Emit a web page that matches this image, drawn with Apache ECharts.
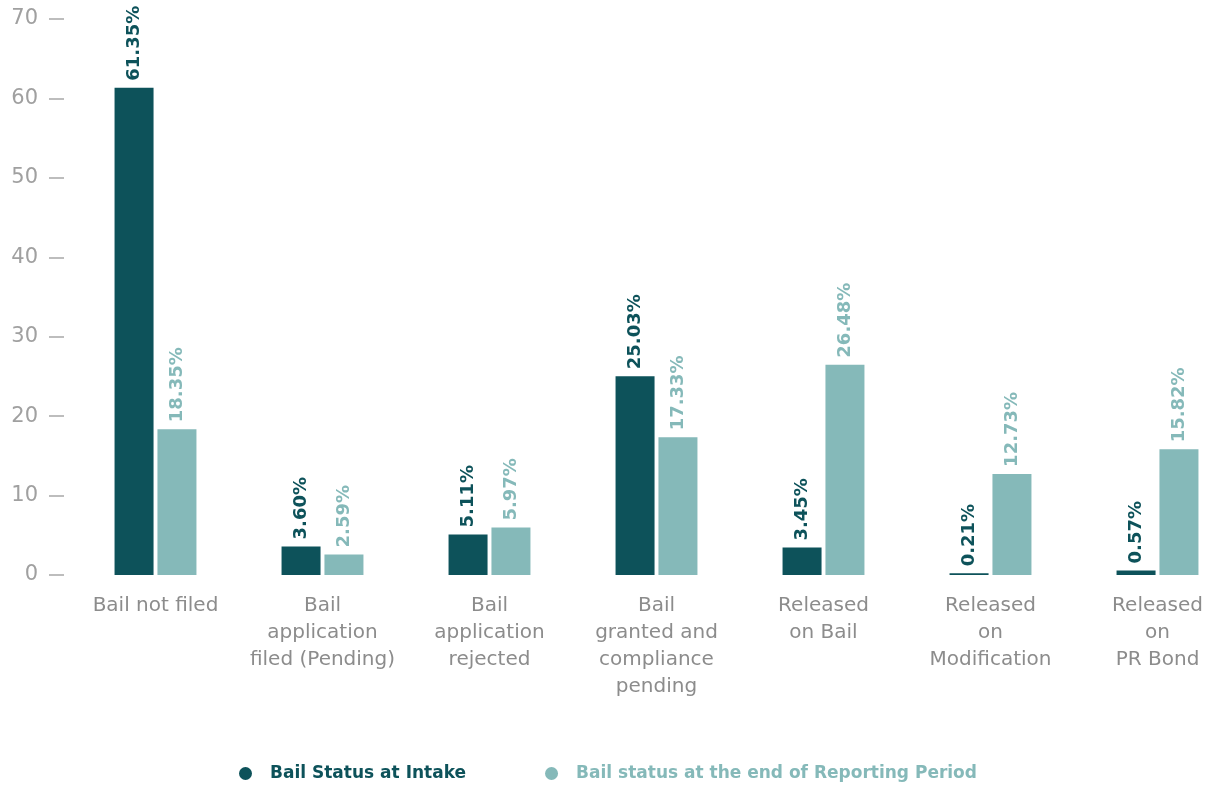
<!DOCTYPE html>
<html>
<head>
<meta charset="utf-8">
<script src="https://cdn.jsdelivr.net/npm/echarts@6/dist/echarts.min.js"></script>
<style>
  html, body { margin: 0; padding: 0; background: #fff; overflow: hidden; }
  #chart { width: 1245px; height: 785px; }
</style>
</head>
<body>
<div id="chart"></div>
<script>
// Bail status breakdown: share of cases (%) at intake vs. end of reporting period
const categories = [
  'Bail not filed',
  'Bail\napplication\nfiled (Pending)',
  'Bail\napplication\nrejected',
  'Bail\ngranted and\ncompliance\npending',
  'Released\non Bail',
  'Released\non\nModification',
  'Released\non\nPR Bond'
];
const seriesNames = ['Bail Status at Intake', 'Bail status at the end of Reporting Period'];
const intakeValues = [61.35, 3.60, 5.11, 25.03, 3.45, 0.21, 0.57];
const endValues = [18.35, 2.59, 5.97, 17.33, 26.48, 12.73, 15.82];
const yTicks = { min: 0, max: 70, interval: 10 };

const FONT = '"DejaVu Sans", "Noto Sans", sans-serif';
const DARK = '#0d525a';
const LIGHT = '#85b9b9';

function barSeries(name, data, color) {
  return {
    name: name,
    type: 'bar',
    data: data,
    barWidth: 39,
    barGap: '10%',
    itemStyle: { color: color },
    label: {
      show: true,
      position: 'top',
      rotate: 90,
      align: 'left',
      verticalAlign: 'middle',
      distance: 7,
      color: color,
      fontFamily: FONT,
      fontWeight: 'bold',
      fontSize: 18,
      formatter: p => p.value.toFixed(2) + '%'
    }
  };
}

const chart = echarts.init(document.getElementById('chart'), null, { renderer: 'canvas' });
chart.setOption({
  animation: false,
  backgroundColor: '#fff',
  grid: { left: 72, width: 1169, top: 19, height: 556 },
  xAxis: {
    type: 'category',
    data: categories,
    axisLine: { show: false },
    axisTick: { show: false },
    axisLabel: {
      interval: 0,
      margin: 17,
      color: '#8c8c8c',
      fontFamily: FONT,
      fontSize: 20,
      lineHeight: 27
    }
  },
  yAxis: {
    type: 'value',
    min: yTicks.min,
    max: yTicks.max,
    interval: yTicks.interval,
    offset: 8,
    splitLine: { show: false },
    axisLine: { show: false },
    axisTick: { show: true, length: 15, lineStyle: { color: '#a8a8a8', width: 1.5 } },
    axisLabel: {
      margin: 26,
      color: '#a0a0a0',
      fontFamily: FONT,
      fontSize: 21
    }
  },
  legend: {
    top: 760,
    left: 234,
    icon: 'circle',
    itemWidth: 13,
    itemHeight: 13,
    itemGap: 79,
    data: [
      { name: seriesNames[0], textStyle: { color: DARK } },
      { name: seriesNames[1], textStyle: { color: LIGHT } }
    ],
    textStyle: { fontFamily: FONT, fontWeight: 'bold', fontSize: 17, padding: [0, 0, 0, 13] }
  },
  series: [
    barSeries(seriesNames[0], intakeValues, DARK),
    barSeries(seriesNames[1], endValues, LIGHT)
  ]
});
</script>
</body>
</html>
